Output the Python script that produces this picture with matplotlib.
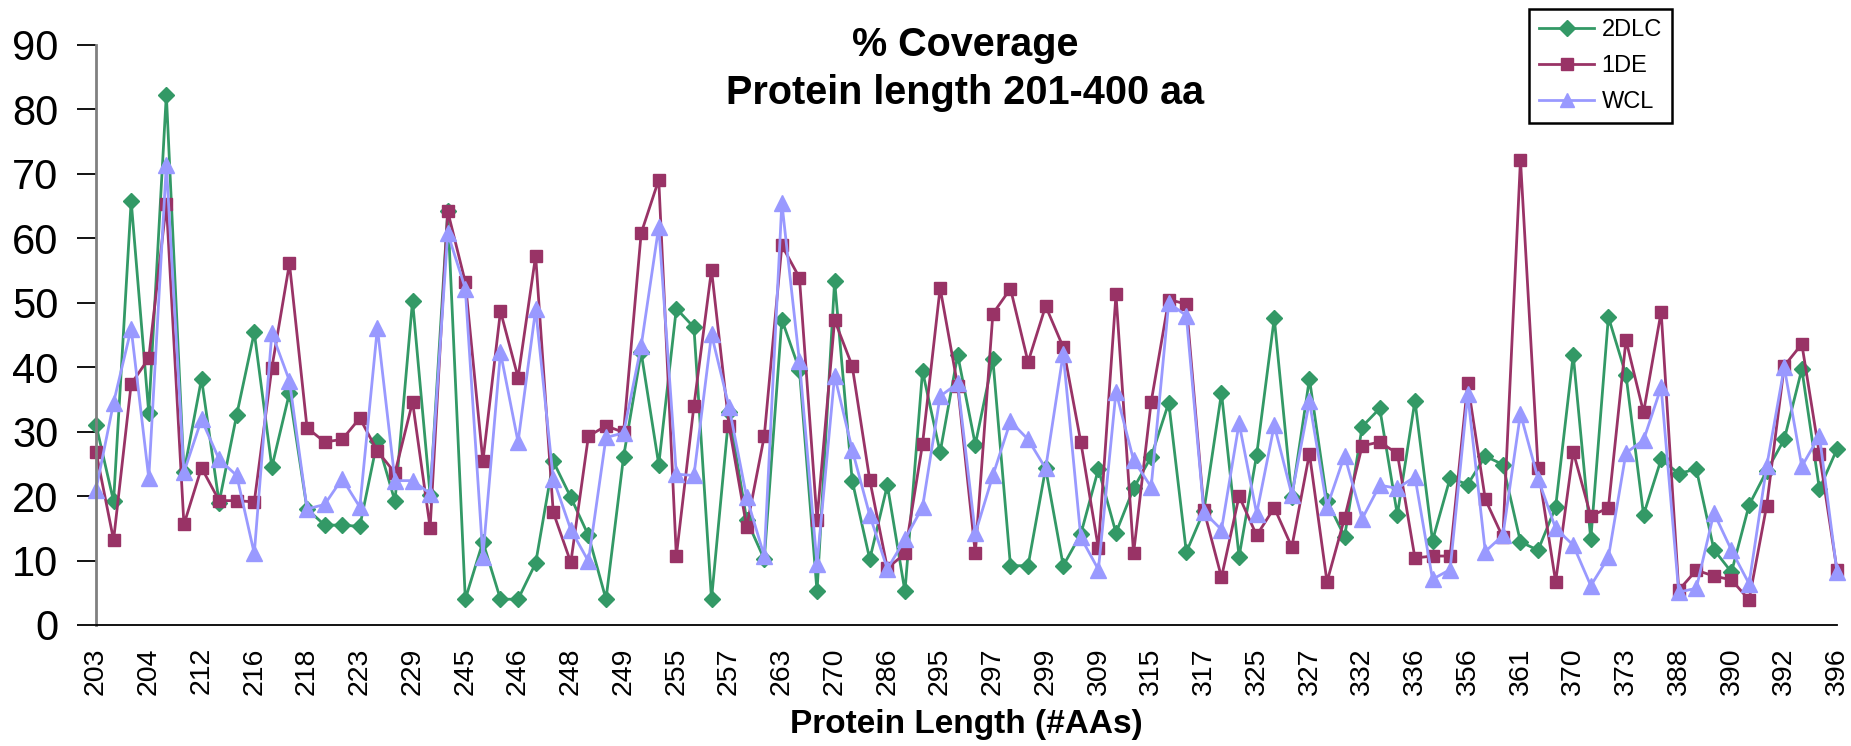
import matplotlib
matplotlib.use("Agg")
import matplotlib.pyplot as plt
from matplotlib import font_manager
import numpy as np

# ---- data ----
tick_labels = ["203", "204", "212", "216", "218", "223", "229", "245", "246", "248",
               "249", "255", "257", "263", "270", "286", "295", "297", "299", "309",
               "315", "317", "325", "327", "332", "336", "356", "361", "370", "373",
               "388", "390", "392", "396"]

cov_2dlc = [31.1, 19.2, 65.8, 32.9, 82.3, 23.7, 38.2, 19.0, 32.6, 45.4,
            24.5, 36.0, 18.0, 15.5, 15.5, 15.3, 28.6, 19.2, 50.3, 20.2,
            64.2, 4.0, 12.9, 4.0, 4.0, 9.6, 25.4, 19.8, 13.9, 4.0,
            26.1, 42.3, 24.9, 49.1, 46.2, 4.0, 33.0, 16.3, 10.2, 47.4,
            39.6, 5.2, 53.4, 22.4, 10.2, 21.7, 5.2, 39.4, 26.8, 41.9,
            28.0, 41.2, 9.2, 9.2, 24.3, 9.2, 14.1, 24.2, 14.3, 21.2,
            26.1, 34.5, 11.3, 17.7, 36.0, 10.6, 26.4, 47.6, 19.8, 38.2,
            19.3, 13.7, 30.8, 33.6, 17.1, 34.8, 13.1, 22.8, 21.8, 26.2,
            24.9, 12.9, 11.6, 18.3, 41.9, 13.3, 47.8, 38.8, 17.1, 25.7,
            23.5, 24.2, 11.7, 8.2, 18.6, 23.9, 28.8, 39.7, 21.1, 27.3]

cov_1de = [26.9, 13.2, 37.4, 41.4, 65.4, 15.6, 24.4, 19.3, 19.3, 19.1,
           39.9, 56.1, 30.6, 28.4, 28.8, 32.1, 27.0, 23.6, 34.6, 15.1,
           64.2, 53.2, 25.4, 48.7, 38.4, 57.3, 17.5, 9.7, 29.3, 30.9,
           29.9, 60.8, 69.1, 10.7, 34.0, 55.1, 30.9, 15.2, 29.3, 58.9,
           53.9, 16.3, 47.3, 40.2, 22.5, 8.8, 11.1, 28.1, 52.3, 37.1,
           11.1, 48.3, 52.2, 40.8, 49.5, 43.1, 28.4, 11.9, 51.3, 11.1,
           34.6, 50.5, 49.8, 17.8, 7.4, 20.0, 13.9, 18.2, 12.1, 26.6,
           6.7, 16.6, 27.8, 28.4, 26.6, 10.4, 10.7, 10.7, 37.5, 19.5,
           13.6, 72.2, 24.4, 6.7, 26.9, 16.9, 18.2, 44.2, 33.0, 48.6,
           5.4, 8.5, 7.6, 7.0, 3.9, 18.5, 40.2, 43.6, 26.5, 8.5]

cov_wcl = [21.0, 34.5, 46.0, 22.8, 71.4, 23.7, 31.9, 25.7, 23.2, 11.1,
           45.3, 37.9, 18.0, 18.7, 22.7, 18.3, 46.1, 22.4, 22.4, 20.4,
           60.8, 52.2, 10.6, 42.3, 28.4, 49.0, 22.7, 14.8, 9.9, 29.1,
           29.8, 43.3, 61.8, 23.4, 23.2, 45.1, 33.8, 19.8, 10.7, 65.5,
           40.9, 9.4, 38.7, 27.2, 17.0, 8.7, 13.3, 18.3, 35.5, 37.5,
           14.2, 23.2, 31.6, 28.8, 24.3, 42.1, 13.6, 8.6, 36.2, 25.6,
           21.4, 50.0, 48.0, 17.5, 14.8, 31.3, 17.3, 31.0, 20.2, 34.7,
           18.3, 26.3, 16.5, 21.7, 21.2, 23.0, 7.1, 8.6, 35.8, 11.4,
           13.9, 32.8, 22.7, 15.0, 12.4, 6.1, 10.5, 26.7, 28.7, 36.9,
           5.1, 5.7, 17.4, 11.6, 6.4, 24.6, 40.0, 24.6, 29.4, 8.2]

series_names = ["2DLC", "1DE", "WCL"]

# ---- fonts ----
avail = {f.name for f in font_manager.fontManager.ttflist}
base = "Liberation Sans" if "Liberation Sans" in avail else "DejaVu Sans"
plt.rcParams["font.family"] = [base, "DejaVu Sans"]

fig = plt.figure(figsize=(18.51, 7.46), dpi=100)
ax = fig.add_axes([96 / 1851, (746 - 625) / 746, (1837 - 96) / 1851, 580 / 746])

x = np.arange(len(cov_2dlc))
ax.plot(x, cov_2dlc, color="#339966", lw=2.0, marker="D", ms=8.5,
        mec="#339966", mfc="#339966", label=series_names[0], clip_on=False)
ax.plot(x, cov_1de, color="#993366", lw=2.0, marker="s", ms=8.5,
        mec="#993366", mfc="#993366", label=series_names[1], clip_on=False)
ax.plot(x, cov_wcl, color="#9999FF", lw=2.0, marker="^", ms=11,
        mec="#9999FF", mfc="#9999FF", label=series_names[2], clip_on=False)

ax.set_xlim(0, len(cov_2dlc) - 1)
ax.set_ylim(0, 90)
ax.set_yticks(np.arange(0, 91, 10))
ax.tick_params(axis="y", labelsize=30, length=14, width=1.3, direction="out",
               color="black", pad=13)
ax.set_xticks(x[::3])
ax.set_xticklabels(tick_labels, rotation=90, fontsize=20.5)
ax.tick_params(axis="x", length=0, pad=16)

for s in ["top", "right"]:
    ax.spines[s].set_visible(False)
ax.spines["left"].set_color("#808080")
ax.spines["left"].set_linewidth(2)
ax.spines["bottom"].set_color("black")
ax.spines["bottom"].set_linewidth(1.3)

ax.set_xlabel("Protein Length (#AAs)", fontsize=24, fontweight="bold", labelpad=10)

fig.text(0.5215, 1 - 45 / 746, "% Coverage", ha="center", va="center",
         fontsize=28.5, fontweight="bold")
fig.text(0.5215, 1 - 93 / 746, "Protein length 201-400 aa", ha="center", va="center",
         fontsize=28.5, fontweight="bold")

leg = ax.legend(loc="upper left", bbox_to_anchor=(1529 / 1851, 1 - 9 / 746),
                bbox_transform=fig.transFigure, borderaxespad=0, fontsize=17,
                frameon=True, fancybox=False, edgecolor="black", framealpha=1,
                handlelength=2.35, labelspacing=0.6, borderpad=0.42,
                handletextpad=0.3, markerscale=0.95)
leg.get_frame().set_linewidth(1.8)

fig.savefig("out.png", dpi=100, facecolor="white")
